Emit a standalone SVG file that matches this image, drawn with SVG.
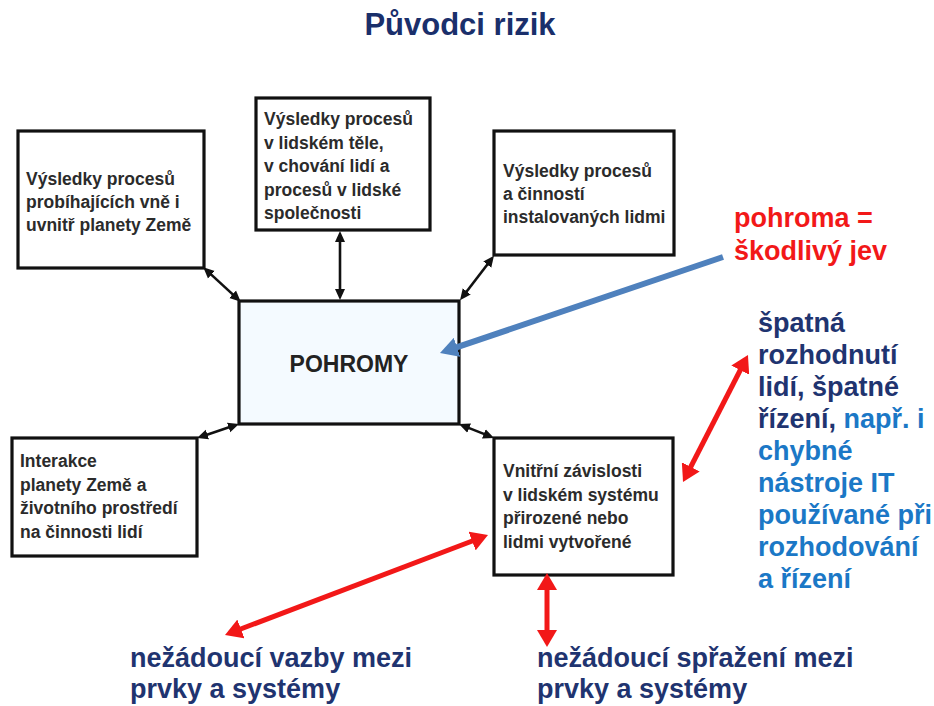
<svg xmlns="http://www.w3.org/2000/svg" width="934" height="706" viewBox="0 0 934 706">
<style>
.box{fill:#fff;stroke:#111;stroke-width:3.2}
.main{fill:#f4faff;stroke:#111;stroke-width:3.2}
.bt{font-family:"Liberation Sans",Arial,sans-serif;font-weight:bold;font-size:17.5px;fill:#2b2b2b}
.big{font-family:"Liberation Sans",Arial,sans-serif;font-weight:bold;font-size:27px}
.navy{fill:#1f3470}
.blue{fill:#1b78c6}
.red{fill:#f21818}
.blk{stroke:#111;stroke-width:2.6;fill:none}
.rl{stroke:#f21818;stroke-width:5;fill:none}
.bl{stroke:#4f81bd;stroke-width:6;fill:none}
</style>
<defs>
<marker id="ab" markerUnits="userSpaceOnUse" viewBox="0 -6 11 12" markerWidth="11" markerHeight="12" refX="2" refY="0" orient="auto-start-reverse"><path d="M0,-5 L11,0 L0,5 z" fill="#111"/></marker>
<marker id="ar" markerUnits="userSpaceOnUse" viewBox="0 -10 17 20" markerWidth="17" markerHeight="20" refX="3" refY="0" orient="auto-start-reverse"><path d="M0,-10 L17,0 L0,10 z" fill="#f21818"/></marker>
<marker id="abl" markerUnits="userSpaceOnUse" viewBox="0 -10 18 20" markerWidth="18" markerHeight="20" refX="3" refY="0" orient="auto"><path d="M0,-10 L18,0 L0,10 z" fill="#4f81bd"/></marker>
</defs>
<rect width="934" height="706" fill="#fff"/>
<text x="460" y="35" text-anchor="middle" font-family="'Liberation Sans',Arial,sans-serif" font-weight="bold" font-size="31" fill="#1a2f6b">Původci rizik</text>

<g id="n1">
<rect class="box" x="18" y="131" width="186" height="137"/>
<text class="bt" x="26" y="185">Výsledky procesů</text>
<text class="bt" x="26" y="208">probíhajících vně i</text>
<text class="bt" x="26" y="231">uvnitř planety Země</text>
</g>
<g id="n2">
<rect class="box" x="256" y="98" width="174" height="132"/>
<text class="bt" x="264" y="125">Výsledky procesů</text>
<text class="bt" x="264" y="148.5">v lidském těle,</text>
<text class="bt" x="264" y="172">v chování lidí a</text>
<text class="bt" x="264" y="195.5">procesů v lidské</text>
<text class="bt" x="264" y="219">společnosti</text>
</g>
<g id="n3">
<rect class="box" x="494" y="131" width="180" height="124"/>
<text class="bt" x="503" y="177">Výsledky procesů</text>
<text class="bt" x="503" y="200">a činností</text>
<text class="bt" x="503" y="223">instalovaných lidmi</text>
</g>
<g id="n-pohromy">
<rect class="main" x="239" y="301" width="220" height="123"/>
<text x="349" y="372" text-anchor="middle" font-family="'Liberation Sans',Arial,sans-serif" font-weight="bold" font-size="23" fill="#222">POHROMY</text>
</g>
<g id="n4">
<rect class="box" x="12" y="438" width="185" height="118"/>
<text class="bt" x="20" y="467">Interakce</text>
<text class="bt" x="20" y="490.5">planety Země a</text>
<text class="bt" x="20" y="514">životního prostředí</text>
<text class="bt" x="20" y="537.5">na činnosti lidí</text>
</g>
<g id="n5">
<rect class="box" x="494" y="438" width="179" height="137"/>
<text class="bt" x="503" y="477">Vnitřní závislosti</text>
<text class="bt" x="503" y="500.5">v lidském systému</text>
<text class="bt" x="503" y="524">přirozené nebo</text>
<text class="bt" x="503" y="547.5">lidmi vytvořené</text>
</g>

<g id="connectors">
<line class="blk" x1="209.9" y1="273.4" x2="234.1" y2="295.6" marker-start="url(#ab)" marker-end="url(#ab)"/>
<line class="blk" x1="340" y1="240" x2="340" y2="291" marker-start="url(#ab)" marker-end="url(#ab)"/>
<line class="blk" x1="488.5" y1="263" x2="465.5" y2="293" marker-start="url(#ab)" marker-end="url(#ab)"/>
<line class="blk" x1="205.5" y1="435.2" x2="230.5" y2="426.8" marker-start="url(#ab)" marker-end="url(#ab)"/>
<line class="blk" x1="467.3" y1="427.4" x2="485.7" y2="434.6" marker-start="url(#ab)" marker-end="url(#ab)"/>
<line class="bl" x1="723" y1="257" x2="454.2" y2="348.2" marker-end="url(#abl)"/>
<line class="rl" x1="689.4" y1="469.5" x2="741.6" y2="367.5" marker-start="url(#ar)" marker-end="url(#ar)"/>
<line class="rl" x1="238.1" y1="630" x2="474.9" y2="540" marker-start="url(#ar)" marker-end="url(#ar)"/>
<line class="rl" x1="547" y1="587" x2="547" y2="633" marker-start="url(#ar)" marker-end="url(#ar)"/>
</g>

<g id="label-pohroma">
<text class="big red" x="734" y="227">pohroma =</text>
<text class="big red" x="734" y="260">škodlivý jev</text>
</g>
<g id="label-spatna">
<text class="big navy" x="758" y="332">špatná</text>
<text class="big navy" x="758" y="364">rozhodnutí</text>
<text class="big navy" x="758" y="396">lidí, špatné</text>
<text class="big" x="758" y="428"><tspan class="navy">řízení, </tspan><tspan class="blue">např. i</tspan></text>
<text class="big blue" x="758" y="460">chybné</text>
<text class="big blue" x="758" y="492">nástroje IT</text>
<text class="big blue" x="758" y="524">používané při</text>
<text class="big blue" x="758" y="556">rozhodování</text>
<text class="big blue" x="758" y="588">a řízení</text>
</g>
<g id="label-vazby">
<text class="big navy" x="130" y="667">nežádoucí vazby mezi</text>
<text class="big navy" x="130" y="698">prvky a systémy</text>
</g>
<g id="label-sprazeni">
<text class="big navy" x="537" y="667">nežádoucí spřažení mezi</text>
<text class="big navy" x="537" y="698">prvky a systémy</text>
</g>
</svg>
